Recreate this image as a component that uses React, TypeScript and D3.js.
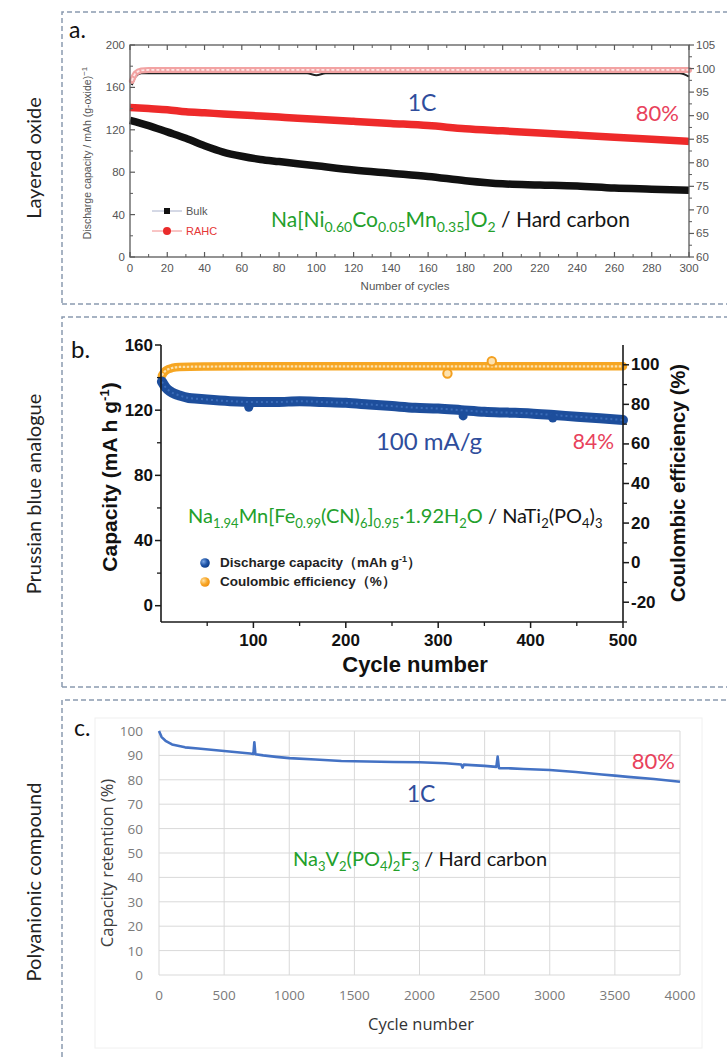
import React from 'react';
import * as d3 from 'd3';

// ---------- Panel a: layered oxide ----------
const aCycles = [0, 10, 20, 30, 40, 50, 60, 70, 80, 90, 100, 120, 140, 160, 180, 200, 220, 240, 260, 280, 300];
const aBulkCap = [129, 124, 118, 112, 105, 99, 95, 92, 90, 88, 86, 82, 79, 76, 72, 69, 68, 67, 65, 64, 63];
const aRahcCap = [141, 140, 139, 137, 136, 135, 134, 133, 132, 131, 130, 128, 126, 124, 121, 119, 117, 115, 113, 111, 109];
const aBulkCeCycles = [1, 3, 6, 10, 50, 95, 100, 105, 150, 200, 250, 295, 300];
const aBulkCe = [96.5, 98.3, 99.0, 99.0, 99.0, 99.0, 98.6, 99.0, 99.0, 99.0, 99.0, 99.0, 98.3];
const aRahcCeCycles = [1, 3, 6, 10, 100, 200, 300];
const aRahcCe = [97.4, 99.0, 99.6, 99.7, 99.7, 99.7, 99.7];

// ---------- Panel b: Prussian blue analogue ----------
const bCycles = [1, 5, 10, 15, 20, 30, 40, 50, 75, 100, 125, 150, 175, 200, 225, 250, 275, 300, 325, 350, 375, 400, 425, 450, 475, 500];
const bCapacity = [137.5, 134, 131.5, 130, 129, 127.5, 127, 126.5, 125.5, 125, 125, 125.5, 125, 124.5, 123.5, 122.5, 121.5, 121, 120, 119, 118.5, 118, 117, 116, 115, 114];
const bCapOutliers: [number, number][] = [[95, 121.8], [327, 116.5], [424, 115.2]];
const bCeCycles = [1, 3, 5, 8, 12, 20, 50, 100, 200, 300, 400, 500];
const bCe = [94.5, 96, 97, 97.8, 98.4, 98.9, 99.1, 99.2, 99.2, 99.2, 99.2, 99.2];
const bCeOutliers: [number, number][] = [[310, 95.6], [358, 101.8]];

// ---------- Panel c: polyanionic compound ----------
const cCycles = [0, 20, 50, 100, 200, 300, 400, 500, 600, 700, 725, 732, 740, 800, 900, 1000, 1200, 1400, 1600, 1800, 2000, 2200, 2320, 2330, 2340, 2400, 2500, 2590, 2600, 2610, 2700, 2800, 3000, 3200, 3400, 3500, 3600, 3800, 4000];
const cRetention = [100, 97.5, 96, 94.5, 93.3, 92.8, 92.3, 91.8, 91.3, 90.8, 90.6, 95.4, 90.5, 90, 89.4, 88.9, 88.3, 87.7, 87.5, 87.3, 87.2, 86.8, 86.3, 85, 86.2, 86, 85.7, 85.3, 89.5, 84.8, 84.7, 84.4, 84, 83.2, 82.2, 81.7, 81.2, 80.3, 79.2];

const aXTicks = d3.range(0, 301, 20);
const aXMinor = d3.range(10, 300, 20);
const aYLTicks = d3.range(0, 201, 40);
const aYLMinor = d3.range(20, 200, 40);
const aYRTicks = d3.range(60, 106, 5);
const aYRMinor = d3.range(62.5, 105, 5);
const bXTicks = [100, 200, 300, 400, 500];
const bXMinor = [50, 150, 250, 350, 450];
const bYLTicks = [0, 40, 80, 120, 160];
const bYLMinor = [20, 60, 100, 140];
const bYRTicks = [-20, 0, 20, 40, 60, 80, 100];
const bYRMinor = [-30, -10, 10, 30, 50, 70, 90];
const cXTicks = d3.range(0, 4001, 500);
const cYTicks = d3.range(0, 101, 10);

const sideLabels = ['Layered oxide', 'Prussian blue analogue', 'Polyanionic compound'];

const GREEN = '#23a02b';
const BLACK = '#151515';
const BLUE_T = '#2f4d9c';
const RED_T = '#e8415b';
const CAL = 'Lato, "Open Sans", sans-serif';
const ARIAL = '"Liberation Sans", Arial, sans-serif';
const OPEN = '"Open Sans", sans-serif';

type Part = [string, 'n' | 'sub' | 'sup', string];

function RichText({ x, y, parts, size, subSize, shift, family, anchor = 'start', weight = 'normal', transform }: any) {
  let cur = 0;
  return (
    <text x={x} y={y} fontFamily={family} fontSize={size} fontWeight={weight} textAnchor={anchor} transform={transform}>
      {(parts as Part[]).map((p, i) => {
        const target = p[1] === 'sub' ? shift : p[1] === 'sup' ? -shift : 0;
        const dy = target - cur;
        cur = target;
        return (
          <tspan key={i} dy={dy} fontSize={p[1] === 'n' ? size : subSize} fill={p[2]}>
            {p[0]}
          </tspan>
        );
      })}
    </text>
  );
}

function zip(xs: number[], ys: number[]): [number, number][] {
  return xs.map((x, i) => [x, ys[i]]);
}

function PanelA() {
  const x = d3.scaleLinear().domain([0, 300]).range([130, 689]);
  const yL = d3.scaleLinear().domain([0, 200]).range([257, 45]);
  const yR = d3.scaleLinear().domain([60, 105]).range([257, 45]);
  const lineL = d3.line<[number, number]>().x(d => x(d[0])).y(d => yL(d[1])).curve(d3.curveMonotoneX);
  const lineR = d3.line<[number, number]>().x(d => x(d[0])).y(d => yR(d[1])).curve(d3.curveMonotoneX);
  const ax = '#5a5a5a';
  const tc = '#555';
  return (
    <g>
      <text x={69} y={29} fontFamily={CAL} fontSize={23} fill="#111" dominantBaseline="central">a.</text>
      {/* data */}
      <path d={lineR(zip(aBulkCeCycles, aBulkCe))!} fill="none" stroke="#222" strokeWidth={2} />
      <path d={lineR(zip(aRahcCeCycles, aRahcCe))!} fill="none" stroke="#f2a3a3" strokeWidth={6} strokeLinecap="round" />
      <path d={lineR(zip(aRahcCeCycles, aRahcCe))!} fill="none" stroke="#fde8e8" strokeWidth={1.8} strokeDasharray="3 2" />
      <path d={lineL(zip(aCycles, aRahcCap))!} fill="none" stroke="#ee2a2a" strokeWidth={7.5} />
      <path d={lineL(zip(aCycles, aBulkCap))!} fill="none" stroke="#111" strokeWidth={7.5} />
      {/* frame */}
      <rect x={130} y={45} width={559} height={212} fill="none" stroke={ax} strokeWidth={1.3} />
      {aXTicks.map(t => (
        <g key={'ax' + t}>
          <line x1={x(t)} x2={x(t)} y1={257} y2={252} stroke={ax} strokeWidth={1.2} />
          <line x1={x(t)} x2={x(t)} y1={45} y2={50} stroke={ax} strokeWidth={1.2} />
          <text x={x(t)} y={268} textAnchor="middle" dominantBaseline="central" fontFamily={ARIAL} fontSize={11.5} fill={tc}>{t}</text>
        </g>
      ))}
      {aXMinor.map(t => (
        <g key={'axm' + t}>
          <line x1={x(t)} x2={x(t)} y1={257} y2={254} stroke={ax} strokeWidth={1} />
          <line x1={x(t)} x2={x(t)} y1={45} y2={48} stroke={ax} strokeWidth={1} />
        </g>
      ))}
      {aYLTicks.map(t => (
        <g key={'ayl' + t}>
          <line x1={130} x2={135} y1={yL(t)} y2={yL(t)} stroke={ax} strokeWidth={1.2} />
          <text x={125} y={yL(t)} textAnchor="end" dominantBaseline="central" fontFamily={ARIAL} fontSize={11.5} fill={tc}>{t}</text>
        </g>
      ))}
      {aYLMinor.map(t => (
        <line key={'aylm' + t} x1={130} x2={133} y1={yL(t)} y2={yL(t)} stroke={ax} strokeWidth={1} />
      ))}
      {aYRTicks.map(t => (
        <g key={'ayr' + t}>
          <line x1={689} x2={694} y1={yR(t)} y2={yR(t)} stroke={ax} strokeWidth={1.2} />
          <text x={696} y={yR(t)} textAnchor="start" dominantBaseline="central" fontFamily={ARIAL} fontSize={11.5} fill={tc}>{t}</text>
        </g>
      ))}
      {aYRMinor.map(t => (
        <line key={'ayrm' + t} x1={689} x2={692} y1={yR(t)} y2={yR(t)} stroke={ax} strokeWidth={1} />
      ))}
      <text x={405} y={286} textAnchor="middle" dominantBaseline="central" fontFamily={ARIAL} fontSize={11.5} fill={tc}>Number of cycles</text>
      <RichText x={0} y={0} transform="translate(91,153) rotate(-90)" anchor="middle" family={ARIAL} size={10.5} subSize={8} shift={4}
        parts={[['Discharge capacity / mAh (g-oxide)', 'n', tc], ['−1', 'sup', tc]]} />
      {/* legend */}
      <line x1={152} x2={182} y1={211} y2={211} stroke="#aab2cc" strokeWidth={1} />
      <rect x={164} y={208} width={6} height={6} fill="#111" />
      <text x={186} y={211} dominantBaseline="central" fontFamily={ARIAL} fontSize={11} fill="#555">Bulk</text>
      <line x1={152} x2={182} y1={231} y2={231} stroke="#f28a8a" strokeWidth={1} />
      <circle cx={167} cy={231} r={4} fill="#ea2b2b" />
      <text x={186} y={231} dominantBaseline="central" fontFamily={ARIAL} fontSize={11} fill="#e53535">RAHC</text>
      {/* annotations */}
      <text x={422} y={102} textAnchor="middle" dominantBaseline="central" fontFamily={CAL} fontSize={23} fill={BLUE_T}>1C</text>
      <text x={679} y={112} textAnchor="end" dominantBaseline="central" fontFamily={CAL} fontSize={22} fill={RED_T}>80%</text>
      <RichText x={271} y={227} family={CAL} size={21} subSize={14} shift={5} transform={undefined}
        parts={[['Na[Ni', 'n', GREEN], ['0.60', 'sub', GREEN], ['Co', 'n', GREEN], ['0.05', 'sub', GREEN], ['Mn', 'n', GREEN], ['0.35', 'sub', GREEN], [']O', 'n', GREEN], ['2', 'sub', GREEN], [' / Hard carbon', 'n', BLACK]]} />
    </g>
  );
}

function PanelB() {
  const x = d3.scaleLinear().domain([0, 500]).range([161, 623]);
  const yL = d3.scaleLinear().domain([-10, 160]).range([622, 345]);
  const yR = d3.scaleLinear().domain([-30, 110]).range([622, 345]);
  const lineL = d3.line<[number, number]>().x(d => x(d[0])).y(d => yL(d[1])).curve(d3.curveMonotoneX);
  const lineR = d3.line<[number, number]>().x(d => x(d[0])).y(d => yR(d[1])).curve(d3.curveMonotoneX);
  const ax = '#1a1a1a';
  return (
    <g>
      <defs>
        <radialGradient id="gBlue" cx="35%" cy="35%" r="70%">
          <stop offset="0" stopColor="#7aa6e6" />
          <stop offset="0.55" stopColor="#1f55a8" />
          <stop offset="1" stopColor="#0c3a85" />
        </radialGradient>
        <radialGradient id="gOrange" cx="35%" cy="35%" r="70%">
          <stop offset="0" stopColor="#ffe3a8" />
          <stop offset="0.55" stopColor="#f8a82a" />
          <stop offset="1" stopColor="#ee8d0c" />
        </radialGradient>
      </defs>
      <text x={71} y={348} fontFamily={CAL} fontSize={24} fill="#111" dominantBaseline="central">b.</text>
      {/* data */}
      <path d={lineR(zip(bCeCycles, bCe))!} fill="none" stroke="#f6a623" strokeWidth={8.5} strokeLinecap="round" />
      <path d={lineR(zip(bCeCycles, bCe))!} fill="none" stroke="#fde2ae" strokeWidth={2.2} strokeDasharray="2.5 1.5" />
      {bCeOutliers.map((d, i) => (
        <circle key={'bo' + i} cx={x(d[0])} cy={yR(d[1])} r={4.2} fill="#fde2ae" stroke="#f3a020" strokeWidth={2} />
      ))}
      <path d={lineL(zip(bCycles, bCapacity))!} fill="none" stroke="#1d4e9c" strokeWidth={10} strokeLinecap="round" />
      <path d={lineL(zip(bCycles, bCapacity))!} fill="none" stroke="#3b6cb8" strokeWidth={2} strokeDasharray="2 3" />
      {bCapOutliers.map((d, i) => (
        <circle key={'bc' + i} cx={x(d[0])} cy={yL(d[1])} r={4.5} fill="#1d4e9c" />
      ))}
      {/* axes */}
      <line x1={161} x2={161} y1={345} y2={622} stroke={ax} strokeWidth={1.6} />
      <line x1={623} x2={623} y1={345} y2={622} stroke={ax} strokeWidth={1.6} />
      <line x1={161} x2={623} y1={622} y2={622} stroke={ax} strokeWidth={1.6} />
      {bXTicks.map(t => (
        <g key={'bx' + t}>
          <line x1={x(t)} x2={x(t)} y1={622} y2={628} stroke={ax} strokeWidth={1.5} />
          <text x={x(t)} y={640} textAnchor="middle" dominantBaseline="central" fontFamily={ARIAL} fontWeight="bold" fontSize={17} fill="#111">{t}</text>
        </g>
      ))}
      {bXMinor.map(t => (
        <line key={'bxm' + t} x1={x(t)} x2={x(t)} y1={622} y2={626} stroke={ax} strokeWidth={1.3} />
      ))}
      {bYLTicks.map(t => (
        <g key={'byl' + t}>
          <line x1={155} x2={161} y1={yL(t)} y2={yL(t)} stroke={ax} strokeWidth={1.5} />
          <text x={153} y={yL(t)} textAnchor="end" dominantBaseline="central" fontFamily={ARIAL} fontWeight="bold" fontSize={17} fill="#111">{t}</text>
        </g>
      ))}
      {bYLMinor.map(t => (
        <line key={'bylm' + t} x1={157} x2={161} y1={yL(t)} y2={yL(t)} stroke={ax} strokeWidth={1.3} />
      ))}
      {bYRTicks.map(t => (
        <g key={'byr' + t}>
          <line x1={623} x2={629} y1={yR(t)} y2={yR(t)} stroke={ax} strokeWidth={1.5} />
          <text x={631} y={yR(t)} textAnchor="start" dominantBaseline="central" fontFamily={ARIAL} fontWeight="bold" fontSize={17} fill="#111">{t}</text>
        </g>
      ))}
      {bYRMinor.map(t => (
        <line key={'byrm' + t} x1={623} x2={627} y1={yR(t)} y2={yR(t)} stroke={ax} strokeWidth={1.3} />
      ))}
      <text x={415} y={664} textAnchor="middle" dominantBaseline="central" fontFamily={ARIAL} fontWeight="bold" fontSize={22} fill="#111">Cycle number</text>
      <RichText x={0} y={7} transform="translate(110,477) rotate(-90)" anchor="middle" family={ARIAL} weight="bold" size={21} subSize={13} shift={8}
        parts={[['Capacity (mA h g', 'n', '#111'], ['-1', 'sup', '#111'], [')', 'n', '#111']]} />
      <text transform="translate(678,483) rotate(-90)" textAnchor="middle" dominantBaseline="central" fontFamily={ARIAL} fontWeight="bold" fontSize={20} fill="#111">Coulombic efficiency (%)</text>
      {/* legend */}
      <circle cx={205} cy={563} r={4.8} fill="url(#gBlue)" />
      <RichText x={220} y={567} family={ARIAL} weight="bold" size={13.5} subSize={9} shift={5}
        parts={[['Discharge capacity（mAh g', 'n', '#222'], ['-1', 'sup', '#222'], ['）', 'n', '#222']]} />
      <circle cx={205} cy={582} r={4.8} fill="url(#gOrange)" />
      <text x={220} y={586} fontFamily={ARIAL} fontWeight="bold" fontSize={13.5} fill="#222">Coulombic efficiency（%）</text>
      {/* annotations */}
      <text x={429} y={440} textAnchor="middle" dominantBaseline="central" fontFamily={CAL} fontSize={24} fill={BLUE_T}>100 mA/g</text>
      <text x={614} y={440} textAnchor="end" dominantBaseline="central" fontFamily={CAL} fontSize={21} fill={RED_T}>84%</text>
      <RichText x={188} y={523} family={CAL} size={20} subSize={13} shift={5}
        parts={[['Na', 'n', GREEN], ['1.94', 'sub', GREEN], ['Mn[Fe', 'n', GREEN], ['0.99', 'sub', GREEN], ['(CN)', 'n', GREEN], ['6', 'sub', GREEN], [']', 'n', GREEN], ['0.95', 'sub', GREEN], ['·1.92H', 'n', GREEN], ['2', 'sub', GREEN], ['O', 'n', GREEN], [' / NaTi', 'n', BLACK], ['2', 'sub', BLACK], ['(PO', 'n', BLACK], ['4', 'sub', BLACK], [')', 'n', BLACK], ['3', 'sub', BLACK]]} />
    </g>
  );
}

function PanelC() {
  const x = d3.scaleLinear().domain([0, 4000]).range([159, 680]);
  const y = d3.scaleLinear().domain([0, 100]).range([975, 731]);
  const line = d3.line<[number, number]>().x(d => x(d[0])).y(d => y(d[1])).curve(d3.curveLinear);
  const grid = '#d9d9d9';
  const tc = '#7a7a7a';
  return (
    <g>
      <rect x={95} y={718} width={607} height={330} fill="#fff" stroke="#f0f0f0" strokeWidth={1} />
      <text x={74} y={727} fontFamily={CAL} fontSize={23} fill="#111" dominantBaseline="central">c.</text>
      {cYTicks.map(t => (
        <g key={'cy' + t}>
          <line x1={159} x2={680} y1={y(t)} y2={y(t)} stroke={grid} strokeWidth={1} />
          <text x={143} y={y(t)} textAnchor="end" dominantBaseline="central" fontFamily={OPEN} fontSize={13.5} fill={tc}>{t}</text>
        </g>
      ))}
      {cXTicks.map(t => (
        <g key={'cx' + t}>
          <line x1={x(t)} x2={x(t)} y1={731} y2={975} stroke={grid} strokeWidth={1} />
          <text x={x(t)} y={995} textAnchor="middle" dominantBaseline="central" fontFamily={OPEN} fontSize={13.5} fill={tc}>{t}</text>
        </g>
      ))}
      <path d={line(zip(cCycles, cRetention))!} fill="none" stroke="#4472c4" strokeWidth={2.6} strokeLinejoin="round" />
      <text x={421} y={1023} textAnchor="middle" dominantBaseline="central" fontFamily={OPEN} fontSize={16.5} fill="#333">Cycle number</text>
      <text transform="translate(106,863) rotate(-90)" textAnchor="middle" dominantBaseline="central" fontFamily={OPEN} fontSize={16.5} fill="#404040">Capacity retention (%)</text>
      <text x={421} y={793} textAnchor="middle" dominantBaseline="central" fontFamily={CAL} fontSize={23} fill={BLUE_T}>1C</text>
      <text x={675} y={760} textAnchor="end" dominantBaseline="central" fontFamily={CAL} fontSize={22} fill={RED_T}>80%</text>
      <RichText x={293} y={866} family={CAL} size={20} subSize={13} shift={5}
        parts={[['Na', 'n', GREEN], ['3', 'sub', GREEN], ['V', 'n', GREEN], ['2', 'sub', GREEN], ['(PO', 'n', GREEN], ['4', 'sub', GREEN], [')', 'n', GREEN], ['2', 'sub', GREEN], ['F', 'n', GREEN], ['3', 'sub', GREEN], [' / Hard carbon', 'n', BLACK]]} />
    </g>
  );
}

export default function App() {
  const dash = '#8a9ab0';
  const dashProps = { stroke: dash, strokeWidth: 1.5, strokeDasharray: '5 3', fill: 'none' };
  return (
    <svg width={727} height={1057} style={{ position: 'absolute', left: 0, top: 0, background: '#fff' }} xmlns="http://www.w3.org/2000/svg">
      <rect x={0} y={0} width={727} height={1057} fill="#fff" />
      {/* panel borders */}
      <path d="M62,303 L62,12 L727,12" {...dashProps} />
      <line x1={62} x2={727} y1={304} y2={304} {...dashProps} />
      <path d="M62,687 L62,317 L727,317" {...dashProps} />
      <line x1={62} x2={727} y1={687} y2={687} {...dashProps} />
      <path d="M62,1057 L62,700 L727,700" {...dashProps} />
      {/* side labels */}
      {sideLabels.map((s, i) => (
        <text key={s} transform={`translate(33,${[158, 494, 882][i]}) rotate(-90)`} textAnchor="middle" dominantBaseline="central"
          fontFamily={CAL} fontSize={20} fill="#222">{s}</text>
      ))}
      <PanelA />
      <PanelB />
      <PanelC />
    </svg>
  );
}
